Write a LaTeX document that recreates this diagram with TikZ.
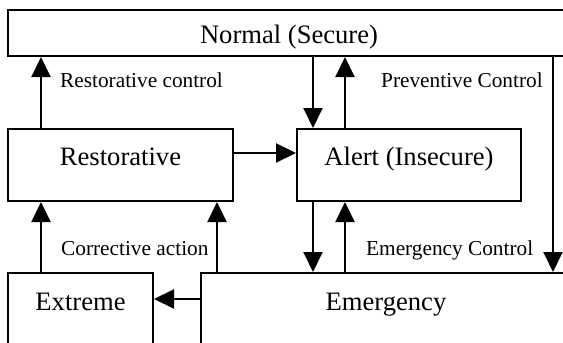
\documentclass[tikz,border=0pt]{standalone}
\usepackage{fontspec}
\setmainfont{Liberation Serif}
\usetikzlibrary{arrows.meta}
\begin{document}
\begin{tikzpicture}[x=1pt,y=-1pt,
  statebox/.style={draw, line width=2pt, rectangle, inner sep=0pt,
    font=\fontsize{26.6}{30}\selectfont},
  flow/.style={draw, line width=2pt, -{Triangle[length=20pt,width=19pt]}},
  tag/.style={anchor=base west, inner sep=0pt, font=\fontsize{21.3}{25}\selectfont}]
\useasboundingbox (0,0) rectangle (563,343);
\clip (0,0) rectangle (563,343);

% state boxes (Normal and Emergency run past the right edge)
\node[statebox, minimum width=562pt, minimum height=46pt,
      text height=20pt, text depth=0pt] (normal) at (289,33) {Normal (Secure)};
\node[statebox, minimum width=225pt, minimum height=72pt,
      text height=19pt, text depth=19pt] (restorative) at (120.5,165) {Restorative};
\node[statebox, minimum width=224pt, minimum height=72pt,
      text height=19pt, text depth=19pt] (alert) at (409,165) {Alert (Insecure)};
\node[statebox, minimum width=145pt, minimum height=100pt,
      text height=19pt, text depth=45pt] (extreme) at (80.5,323) {Extreme};
\node[statebox, minimum width=370pt, minimum height=100pt,
      text height=19pt, text depth=45pt] (emergency) at (386,323) {Emergency};

% guide positions for the connectors
\coordinate (xa) at (41,0);
\coordinate (xb) at (217,0);
\coordinate (xc) at (313,0);
\coordinate (xd) at (345,0);
\coordinate (xe) at (553,0);
\coordinate (ya) at (0,153);
\coordinate (yb) at (0,299);

% transitions
\draw[flow] (restorative.north -| xa) -- (normal.south -| xa);
\draw[flow] (normal.south -| xc) -- (alert.north -| xc);
\draw[flow] (alert.north -| xd) -- (normal.south -| xd);
\draw[flow] (normal.south -| xe) -- (emergency.north -| xe);
\draw[flow] (restorative.east |- ya) -- (alert.west |- ya);
\draw[flow] (extreme.north -| xa) -- (restorative.south -| xa);
\draw[flow] (emergency.north -| xb) -- (restorative.south -| xb);
\draw[flow] (alert.south -| xc) -- (emergency.north -| xc);
\draw[flow] (emergency.north -| xd) -- (alert.south -| xd);
\draw[flow] (emergency.west |- yb) -- (extreme.east |- yb);

% control labels
\node[tag] (lrest) at (60,87) {Restorative control};
\node[tag] (lprev) at (381,87) {Preventive Control};
\node[tag] (lcorr) at (61,255) {Corrective action};
\node[tag] (lemer) at (366,255) {Emergency Control};
\end{tikzpicture}
\end{document}
